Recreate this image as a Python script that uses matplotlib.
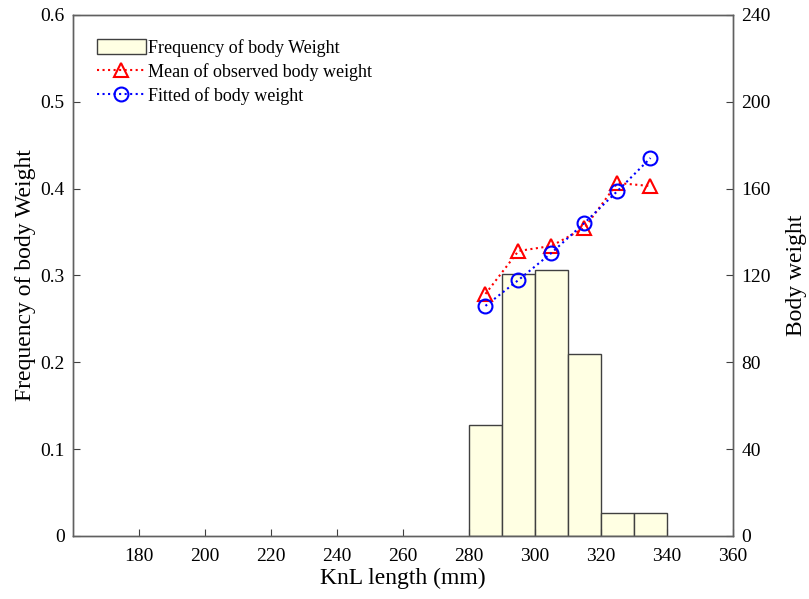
import matplotlib
matplotlib.use('Agg')
import matplotlib.pyplot as plt
import numpy as np

# data
bin_edges = [280, 290, 300, 310, 320, 330, 340]
freq = [0.128, 0.302, 0.306, 0.210, 0.026, 0.026]
mid_len = [285, 295, 305, 315, 325, 335]
mean_obs = [111.5, 131.3, 133.6, 141.9, 162.6, 161.2]
fitted = [106.0, 117.9, 130.4, 144.2, 158.9, 174.1]

plt.rcParams['font.family'] = ['Liberation Serif', 'DejaVu Serif']
plt.rcParams['xtick.direction'] = 'in'
plt.rcParams['ytick.direction'] = 'in'

fig = plt.figure(figsize=(8.09, 5.99), dpi=100)
ax = fig.add_axes([0.0902, 0.1052, 0.8158, 0.8698])
ax2 = ax.twinx()

edge_col = '#404040'
lefts = bin_edges[:-1]
widths = np.diff(bin_edges)
bars = ax.bar(lefts, freq, width=widths, align='edge', color='#ffffe3',
              edgecolor=edge_col, linewidth=1.0, label='Frequency of body Weight')

l1, = ax2.plot(mid_len, mean_obs, ':', color='#ff0000', marker='^', markersize=10,
               markerfacecolor='none', markeredgewidth=1.5, linewidth=1.5,
               label='Mean of observed body weight')
l2, = ax2.plot(mid_len, fitted, ':', color='#0000ff', marker='o', markersize=10,
               markerfacecolor='none', markeredgewidth=1.5, linewidth=1.5,
               label='Fitted of body weight')

ax.set_xlim(160, 360)
ax.set_xticks(np.arange(180, 361, 20))
ax.set_ylim(0, 0.6)
ax.set_yticks(np.arange(0, 0.61, 0.1))
ax.set_yticklabels(['0', '0.1', '0.2', '0.3', '0.4', '0.5', '0.6'])
ax2.set_ylim(0, 240)
ax2.set_yticks(np.arange(0, 241, 40))

for a in (ax, ax2):
    a.tick_params(labelsize=14, length=5, color=edge_col, top=False)
    a.tick_params(axis='y', pad=6)
    for s in a.spines.values():
        s.set_color('#606060')
        s.set_linewidth(1.0)
ax.tick_params(axis='x', pad=9)

ax.set_xlabel('KnL length (mm)', fontsize=17, labelpad=2)
ax.set_ylabel('Frequency of body Weight', fontsize=17, labelpad=3)
ax2.set_ylabel('Body weight', fontsize=17, labelpad=11)

ax.set_zorder(ax2.get_zorder() - 1)
ax2.patch.set_visible(False)

leg = ax2.legend([bars, l1, l2], [bars.get_label(), l1.get_label(), l2.get_label()],
                 loc='upper left', bbox_to_anchor=(0.02, 0.975), frameon=False,
                 fontsize=13, handlelength=2.7, handleheight=0.9, handletextpad=0.1,
                 labelspacing=0.35, borderaxespad=0.2)

fig.savefig('out.png', dpi=100)
